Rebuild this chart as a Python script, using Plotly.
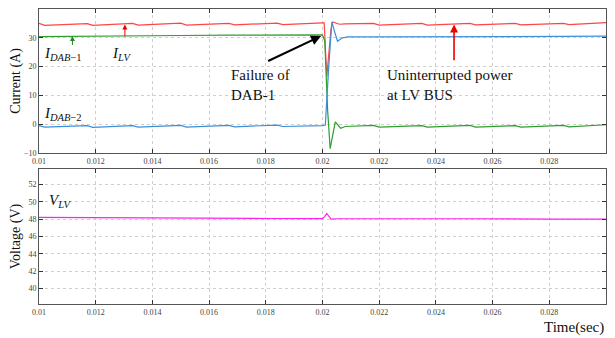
import plotly.graph_objects as go
from plotly.subplots import make_subplots

# ---------------- data ----------------
t_ilv = [0.0100, 0.0102, 0.0117, 0.0119, 0.0133, 0.0135, 0.0150, 0.0152, 0.0167, 0.0169,
         0.0184, 0.0186, 0.0200, 0.02006, 0.02015, 0.0203, 0.02036, 0.02045, 0.0206,
         0.0208, 0.0218, 0.0220, 0.0235, 0.0237, 0.0252, 0.0254, 0.0268, 0.0270, 0.0285,
         0.0287, 0.0300]
i_lv = [35.0, 34.3, 34.9, 34.3, 35.0, 34.4, 35.1, 34.4, 35.0, 34.5,
        35.1, 34.6, 35.2, 35.2, 16.5, 33.0, 35.5, 35.1, 34.7,
        34.8, 35.0, 34.4, 35.0, 34.4, 35.0, 34.5, 35.0, 34.5, 35.0,
        34.6, 35.3]

t_dab1 = [0.0100, 0.0117, 0.0133, 0.0150, 0.0167, 0.0184, 0.0200, 0.02008, 0.02018,
          0.02027, 0.02036, 0.02045, 0.02064, 0.0208, 0.0218, 0.0220, 0.0235, 0.0237,
          0.0252, 0.0254, 0.0268, 0.0270, 0.0285, 0.0287, 0.0300]
i_dab1 = [30.4, 30.6, 30.7, 30.8, 30.9, 31.0, 31.0, 29.0, 5.0,
          -8.5, -4.0, 0.8, -1.4, -0.8, -0.4, -1.0, -0.5, -1.0,
          -0.4, -1.0, -0.5, -1.0, -0.4, -0.9, -0.2]

t_dab2 = [0.0100, 0.0102, 0.0117, 0.0119, 0.0133, 0.0135, 0.0150, 0.0152, 0.0167, 0.0169,
          0.0184, 0.0186, 0.0200, 0.0201, 0.02022, 0.02033, 0.02043, 0.02053, 0.0207,
          0.0209, 0.0220, 0.0235, 0.0252, 0.0268, 0.0285, 0.0300]
i_dab2 = [-0.5, -1.0, -0.5, -1.1, -0.5, -1.0, -0.4, -1.0, -0.4, -0.9,
          -0.3, -0.8, -0.5, -0.3, 20.0, 35.5, 32.0, 28.8, 30.0,
          30.3, 30.3, 30.3, 30.4, 30.4, 30.5, 30.6]

t_vlv = [0.0100, 0.0120, 0.0150, 0.0180, 0.0200, 0.02008, 0.02015, 0.02022, 0.0203,
         0.0205, 0.0220, 0.0250, 0.0280, 0.0300]
v_lv = [48.2, 48.15, 48.1, 48.08, 48.06, 48.3, 48.66, 48.4, 48.02,
        48.05, 48.07, 48.05, 48.02, 48.0]

x_ticks = [0.01, 0.012, 0.014, 0.016, 0.018, 0.02, 0.022, 0.024, 0.026, 0.028, 0.03]
x_ticktext = ["0.01", "0.012", "0.014", "0.016", "0.018", "0.02", "0.022", "0.024",
              "0.026", "0.028", "0.03"]
y1_ticks = [-10, 0, 10, 20, 30, 40]
y2_ticks = [40, 42, 44, 46, 48, 50, 52]

# ---------------- figure ----------------
SERIF = "Liberation Serif, Times New Roman, serif"
fig = make_subplots(rows=2, cols=1)
fig.add_trace(go.Scatter(x=t_ilv, y=i_lv, mode="lines",
                         line=dict(color="#ff4545", width=1.2)), row=1, col=1)
fig.add_trace(go.Scatter(x=t_dab1, y=i_dab1, mode="lines",
                         line=dict(color="#2e9e2e", width=1.2)), row=1, col=1)
fig.add_trace(go.Scatter(x=t_dab2, y=i_dab2, mode="lines",
                         line=dict(color="#3a8fd9", width=1.2)), row=1, col=1)
fig.add_trace(go.Scatter(x=t_vlv, y=v_lv, mode="lines",
                         line=dict(color="#ff22ee", width=1.2)), row=2, col=1)

tickfont = dict(family=SERIF, size=8, color="#444")
axis_common = dict(showline=True, linecolor="#555", linewidth=1, mirror="ticks",
                   ticks="inside", ticklen=4, tickcolor="#333", automargin=False,
                   showgrid=True, gridcolor="#cfcfcf", griddash="dot", gridwidth=1,
                   zeroline=False, tickfont=tickfont)

# page body adds an 8px offset, so the figure is smaller and margins compensate
fig.update_layout(
    width=599, height=330, showlegend=False,
    paper_bgcolor="white", plot_bgcolor="white",
    margin=dict(l=31, r=1, t=1, b=34),
    font=dict(family=SERIF, color="#111"),
    xaxis=dict(domain=[0, 1], range=[0.01, 0.03], tickvals=x_ticks, ticktext=x_ticktext,
               anchor="y", **axis_common),
    yaxis=dict(domain=[0.5119, 1], range=[-10, 40], tickvals=y1_ticks, anchor="x",
               title=dict(text="Current (A)", font=dict(size=14, family=SERIF),
                          standoff=6), **axis_common),
    xaxis2=dict(domain=[0, 1], range=[0.01, 0.03], tickvals=x_ticks, ticktext=x_ticktext,
                anchor="y2", **axis_common),
    yaxis2=dict(domain=[0, 0.4576], range=[38.2, 53.8], tickvals=y2_ticks, anchor="x2",
                title=dict(text="Voltage (V)", font=dict(size=14, family=SERIF),
                           standoff=6), **axis_common),
)

ann_font = dict(family=SERIF, size=15, color="#111")
labels = [
    dict(x=0.01085, y=24.5, text="<i>I</i><sub><i>DAB</i>−1</sub>"),
    dict(x=0.0129, y=24.5, text="<i>I</i><sub><i>LV</i></sub>"),
    dict(x=0.01085, y=3.5, text="<i>I</i><sub><i>DAB</i>−2</sub>"),
]
for a in labels:
    fig.add_annotation(x=a["x"], y=a["y"], text=a["text"], xref="x", yref="y",
                       showarrow=False, font=ann_font, yanchor="middle")
fig.add_annotation(x=0.01075, y=50.1, text="<i>V</i><sub><i>LV</i></sub>", xref="x2", yref="y2",
                   showarrow=False, font=ann_font, yanchor="middle")

fig.add_annotation(x=0.0167, y=13.5, text="Failure of<br>DAB-1", xref="x", yref="y",
                   showarrow=False, font=dict(family=SERIF, size=15, color="#111"),
                   align="left", xanchor="left", yanchor="middle")
fig.add_annotation(x=0.0222, y=13.5, text="Uninterrupted power<br>at LV BUS", xref="x", yref="y",
                   showarrow=False, font=dict(family=SERIF, size=15, color="#111"),
                   align="left", xanchor="left", yanchor="middle")

# arrows
arrows = [
    dict(x=0.01995, y=30.6, ax=0.01803, ay=21.7, color="#000", w=2, size=1.0),
    dict(x=0.02464, y=34.6, ax=0.02464, ay=21.7, color="#ee0000", w=1.6, size=1.0),
    dict(x=0.01303, y=34.6, ax=0.01303, ay=30.0, color="#ee0000", w=1, size=1.0),
    dict(x=0.01118, y=30.6, ax=0.01118, ay=27.0, color="#228b22", w=1, size=1.0),
]
for a in arrows:
    fig.add_annotation(x=a["x"], y=a["y"], ax=a["ax"], ay=a["ay"], xref="x", yref="y",
                       axref="x", ayref="y", text="", showarrow=True, arrowhead=2,
                       arrowsize=a["size"], arrowwidth=a["w"], arrowcolor=a["color"])

fig.add_annotation(x=1, y=-0.081, xref="paper", yref="paper", text="Time(sec)",
                   showarrow=False, xanchor="right", yanchor="middle",
                   font=dict(family=SERIF, size=15, color="#111"))

fig.write_html("out.html")
